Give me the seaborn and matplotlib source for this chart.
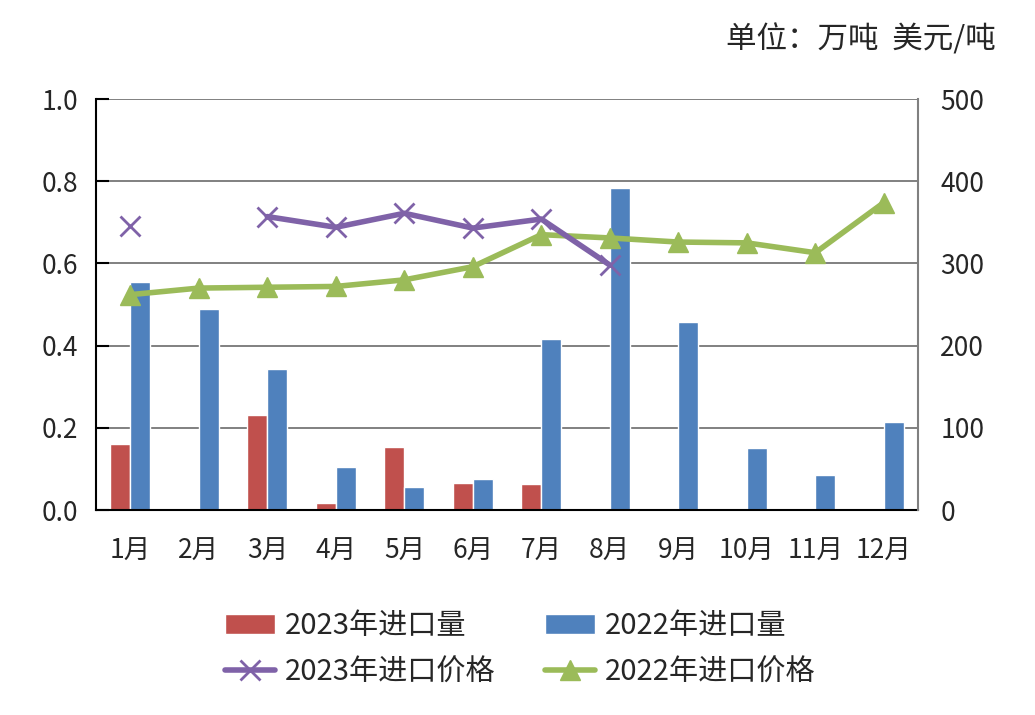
import numpy as np
import pandas as pd
import matplotlib
matplotlib.use('Agg')
import matplotlib.pyplot as plt
import seaborn as sns
from matplotlib.patches import Patch
from matplotlib.lines import Line2D

# ==================================================
# Dados
# ==================================================
meses = ['1月', '2月', '3月', '4月', '5月', '6月',
         '7月', '8月', '9月', '10月', '11月', '12月']
vol_2023 = [0.161, 0.0, 0.230, 0.016, 0.153, 0.066, 0.063, 0.006, 0.0, 0.0, 0.0, 0.0]
vol_2022 = [0.555, 0.488, 0.343, 0.105, 0.056, 0.075, 0.416, 0.783, 0.458, 0.151, 0.085, 0.214]
preco_2023 = [346, np.nan, 357, 344, 361, 343, 354, 298, np.nan, np.nan, np.nan, np.nan]
preco_2022 = [262, 270, 271, 272, 280, 296, 335, 331, 326, 325, 313, 374]

rotulo_v23 = '2023年进口量'
rotulo_v22 = '2022年进口量'
rotulo_p23 = '2023年进口价格'
rotulo_p22 = '2022年进口价格'
unidade = '单位：万吨  美元/吨'

cor_v23 = '#C0504D'
cor_v22 = '#4F81BD'
cor_p23 = '#7F62A8'
cor_p22 = '#9BBB59'

sns.set_style('white')
plt.rcParams['font.family'] = ['Noto Sans CJK SC', 'DejaVu Sans']

df = pd.DataFrame({
    '月': meses * 2,
    '量': vol_2023 + vol_2022,
    '系列': [rotulo_v23] * 12 + [rotulo_v22] * 12,
})

fig = plt.figure(figsize=(10.35, 7.15), dpi=100)
ax = fig.add_axes([0.0928, 0.2867, 0.7942, 0.5748])

sns.barplot(data=df, x='月', y='量', hue='系列', order=meses,
            hue_order=[rotulo_v23, rotulo_v22],
            palette=[cor_v23, cor_v22], width=0.58, gap=0,
            saturation=1, errorbar=None, ax=ax, legend=False, zorder=2)

ax.set_ylim(0, 1.0)
ax.set_yticks(np.arange(0, 1.01, 0.2))
ax.set_yticklabels([f'{v:.1f}' for v in np.arange(0, 1.01, 0.2)])
ax.set_xlim(-0.5, 11.5)
ax.set_xlabel('')
ax.set_ylabel('')
ax.yaxis.grid(True, color='#808080', linewidth=1.4, zorder=0)
ax.set_axisbelow(True)
ax.tick_params(axis='y', direction='in', length=9, width=1.5, color='black',
               labelsize=19, pad=13)
ax.tick_params(axis='x', length=0, labelsize=19, pad=20)
for lado in ['left', 'bottom']:
    ax.spines[lado].set_color('black')
    ax.spines[lado].set_linewidth(1.5)
ax.spines['top'].set_visible(False)
ax.spines['right'].set_visible(False)

ax2 = ax.twinx()
x = np.arange(len(meses))
ax2.plot(x, preco_2022, color=cor_p22, linewidth=4, marker='^',
         markersize=15, zorder=3)
ax2.plot(x, preco_2023, color=cor_p23, linewidth=4, marker='x',
         markersize=15, markeredgewidth=2, zorder=4)
ax2.set_ylim(0, 500)
ax2.set_yticks(range(0, 501, 100))
ax2.tick_params(axis='y', length=0, labelsize=19, pad=16)
ax2.spines['right'].set_color('#808080')
ax2.spines['right'].set_linewidth(1.5)
ax2.spines['top'].set_visible(False)
ax2.spines['left'].set_visible(False)
ax2.spines['bottom'].set_visible(False)

fig.text(0.962, 0.944, unidade, ha='right', va='center', fontsize=22)

alca = [
    Patch(facecolor=cor_v23, label=rotulo_v23),
    Line2D([], [], color=cor_p23, linewidth=4, marker='x', markersize=15,
           markeredgewidth=2, label=rotulo_p23),
    Patch(facecolor=cor_v22, label=rotulo_v22),
    Line2D([], [], color=cor_p22, linewidth=4, marker='^', markersize=15,
           label=rotulo_p22),
]
fig.legend(handles=alca, ncol=2, loc='center', bbox_to_anchor=(0.503, 0.092),
           frameon=False, fontsize=21, handlelength=1.7, handleheight=0.7,
           handletextpad=0.35, columnspacing=1.7, labelspacing=0.55)

fig.savefig('out.png', dpi=100)
